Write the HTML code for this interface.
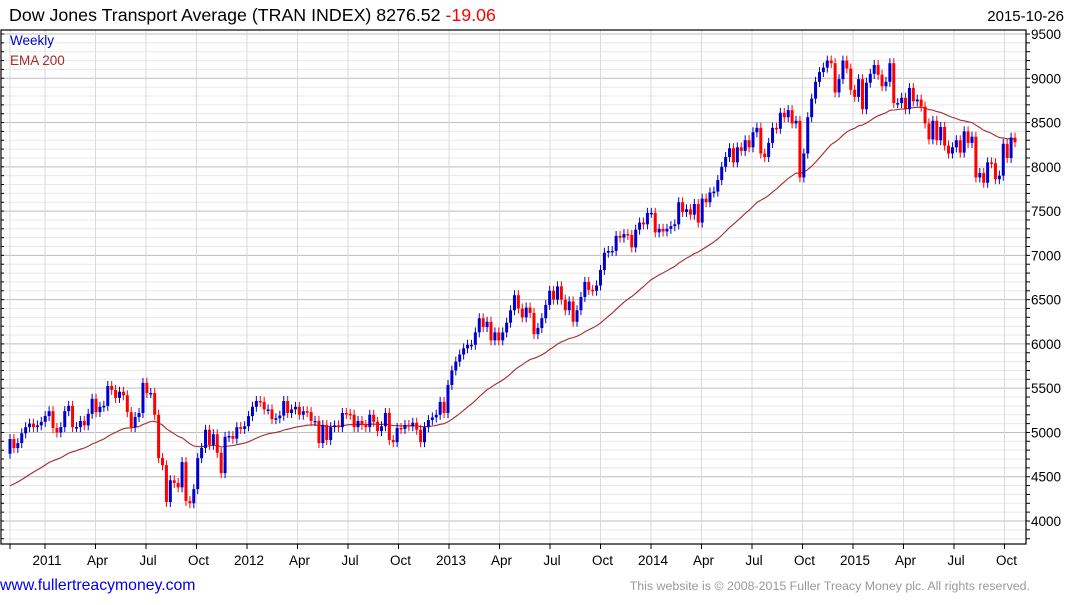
<!DOCTYPE html>
<html><head><meta charset="utf-8"><style>
html,body{margin:0;padding:0;background:#fff;}
body{width:1075px;height:600px;overflow:hidden;font-family:"Liberation Sans",sans-serif;}
svg text{font-family:"Liberation Sans",sans-serif;}
</style></head><body>
<svg id="chart" width="1075" height="600" xmlns="http://www.w3.org/2000/svg">
<text x="9" y="21" font-size="17.8" fill="#000">Dow Jones Transport Average (TRAN INDEX) 8276.52 <tspan fill="#ff0000">-19.06</tspan></text>
<text x="1064" y="21" font-size="15" text-anchor="end" fill="#000">2015-10-26</text>
<g id="grid"></g>
<g id="ema"></g>
<g id="candles"></g>
<g id="axes"></g>
<text x="10" y="45" font-size="13.5" fill="#0000cc">Weekly</text>
<text x="10" y="65" font-size="13.5" fill="#a52a2a">EMA 200</text>
<text x="0" y="590" font-size="15.8" fill="#0000ee">www.fullertreacymoney.com</text>
<text x="1030" y="590" font-size="12.4" text-anchor="end" fill="#999">This website is © 2008-2015 Fuller Treacy Money plc. All rights reserved.</text>
</svg>
<script>
const closes = [
4926,4824,4880,4990,5060,5100,5060,5080,5120,5185,
5240,5050,5000,5060,5240,5300,5060,5060,5130,5080,
5210,5380,5230,5290,5300,5525,5480,5390,5460,5420,
5230,5060,5175,5220,5560,5445,5445,5200,4710,4630,
4215,4460,4430,4380,4665,4225,4200,4360,4710,4825,
5030,4860,4980,4770,4540,4950,4960,4930,5060,5040,
5070,5185,5290,5355,5345,5260,5260,5150,5160,5190,
5355,5220,5260,5290,5200,5240,5230,5130,5130,4880,
5085,4915,5060,5080,5060,5220,5210,5200,5060,5130,
5085,5060,5200,5120,5015,5070,5220,4915,4890,5050,
5040,5085,5070,5110,5030,4890,5060,5140,5170,5200,
5345,5220,5536,
5700,5800,5880,5950,5990,5990,6130,6290,6190,6250,
6040,6130,6040,6130,6240,6380,6550,6400,6300,6410,
6350,6110,6180,6290,6440,6600,6500,6650,6500,6380,
6480,6250,6380,6530,6700,6610,6600,6660,6835,7030,
7050,7050,7220,7200,7240,7230,7090,7290,7370,7350,
7480,7480,7260,7300,7270,7300,7330,7350,7600,7490,
7520,7460,7580,
7370,7640,7600,7710,7720,7850,8000,8110,8210,8050,
8220,8180,8300,8220,8390,8440,8150,8110,8270,8440,
8430,8610,8560,8640,8490,8520,7880,8150,8560,8770,
8960,9070,9120,9200,9170,8840,8990,9200,9110,8870,
8790,8990,8650,8950,9050,9150,9040,8910,8960,9170,
8720,8720,8780,8650,8890,8740,8760,8680,8490,8310,
8520,8300,8450,8240,8150,8220,8300,8160,8400,8270,
8340,7880,7930,7820,8050,8040,7860,7900,8260,8100,
8330,8277];
const firstOpen = 4760;
const emaSeed = 4370;
const emaPeriod = 40;
const yTicks = [9500,9000,8500,8000,7500,7000,6500,6000,5500,5000,4500,4000];
const xLabels = ["2011","Apr","Jul","Oct","2012","Apr","Jul","Oct","2013","Apr","Jul","Oct","2014","Apr","Jul","Oct","2015","Apr","Jul","Oct"];

const NS="http://www.w3.org/2000/svg";
const L=1,R=1026,T=30,B=544;
const yScale=v=>521-(v-4000)*(487/5500);
const N=closes.length;
const xScale=i=>10+i*(1015-10)/(N-1);
function mk(tag,attrs,parent){const e=document.createElementNS(NS,tag);for(const k in attrs)e.setAttribute(k,attrs[k]);parent.appendChild(e);return e;}
const grid=document.getElementById('grid'),axes=document.getElementById('axes');
mk('rect',{x:L,y:T,width:R-L,height:B-T,fill:'#fff'},grid);
for(let v=3700;v<=9600;v+=100){const y=yScale(v);if(y<T||y>B)continue;
 const ln=mk('line',{x1:L,x2:R,y1:y,y2:y,stroke:v%500===0?'#bdbdbd':'#e8e8e8','stroke-width':1},grid);
 
 mk('line',{x1:R,x2:R+4,y1:y,y2:y,stroke:'#000'},axes);
 mk('line',{x1:L,x2:L+3,y1:y,y2:y,stroke:'#000'},axes);}
const vl=mk('line',{x1:10,x2:10,y1:T,y2:B,stroke:'#dadada'},grid);

xLabels.forEach((lab,k)=>{const x=45+k*50.5;
 const g=mk('line',{x1:x,x2:x,y1:T,y2:B,stroke:'#dadada'},grid);
 
 mk('line',{x1:x,x2:x,y1:B,y2:B+5,stroke:'#000'},axes);
 const t=mk('text',{x:x+2,y:565,'font-size':13.5,'text-anchor':'middle',fill:'#000'},axes);t.textContent=lab;
 });
mk('line',{x1:10,x2:10,y1:B,y2:B+5,stroke:'#000'},axes);
yTicks.forEach(v=>{const t=mk('text',{x:R+5,y:yScale(v)+5,'font-size':13.5,fill:'#000'},axes);t.textContent=v;
 });
mk('rect',{x:L,y:T,width:R-L,height:B-T,fill:'none',stroke:'#000','stroke-width':1.2},axes);

let e=emaSeed;const a=2/(emaPeriod+1);const pts=[];
closes.forEach((c,i)=>{e=e+a*(c-e);pts.push(xScale(i).toFixed(1)+','+yScale(e).toFixed(1));});
const pl=mk('polyline',{points:pts.join(' '),fill:'none',stroke:'#a52a2a','stroke-width':1.1},document.getElementById('ema'));


const cg=document.getElementById('candles');
closes.forEach((c,i)=>{const o=i?closes[i-1]:firstOpen;const up=c>=o;const col=up?'#0000cc':'#ff0000';
 const x=xScale(i);const yt=yScale(Math.max(o,c)),yb=yScale(Math.min(o,c));
 const g=mk('g',{},cg);
 
 mk('line',{x1:x,x2:x,y1:yt-5,y2:yb+5,stroke:col,'stroke-width':1},g);
 mk('rect',{x:x-1.5,y:yt,width:3,height:Math.max(1.5,yb-yt),fill:col},g);});
</script>
</body></html>
